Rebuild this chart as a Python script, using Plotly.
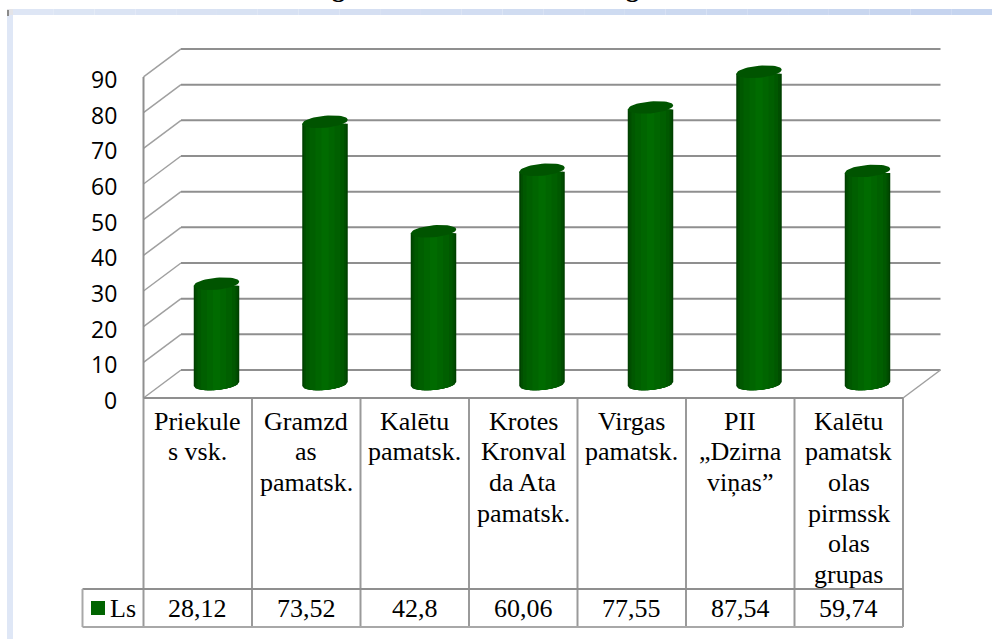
import math
import plotly.graph_objects as go

categories = ["Priekule<br>s vsk.", "Gramzd<br>as<br>pamatsk.", "Kalētu<br>pamatsk.",
              "Krotes<br>Kronval<br>da Ata<br>pamatsk.", "Virgas<br>pamatsk.",
              "PII<br>„Dzirna<br>viņas”", "Kalētu<br>pamatsk<br>olas<br>pirmssk<br>olas<br>grupas"]
values = [28.12, 73.52, 42.8, 60.06, 77.55, 87.54, 59.74]
y_ticks = [0, 10, 20, 30, 40, 50, 60, 70, 80, 90]
series_name = "Ls"

W, H = 992, 639
X0, Y0 = 143.5, 398.0        # front-left origin of the 3D floor
CW, YU = 108.5, 3.567        # px per category, px per value unit
DX, DZ = 37.5, 28.0          # depth offset of the back wall
ML, MR, MT, MB = 133, 46, 45, 234
x_lo = -0.5 + (ML - X0) / CW
x_hi = -0.5 + (W - MR - X0) / CW
y_lo = (Y0 - (H - MB)) / YU
y_hi = (Y0 - MT) / YU
dx, dz = DX / CW, DZ / YU
lift = dz / 2
shift = dx / 2
rx, ry, tilt = 22.75 / CW, 6.0 / YU, 2.0 / YU

GRID = "#8f8f8f"
TABLE = "#9a9a9a"
SERIF = "Liberation Serif"
TXT = 26
# paper coordinates are relative to the plot domain
pxp = lambda v: (v - ML) / (W - ML - MR)
pyp = lambda v: ((H - MB) - v) / (H - MT - MB)

fig = go.Figure()
shapes = []

def gline(x0, y0, x1, y1, color=GRID, width=2):
    shapes.append(dict(type="line", xref="x", yref="y", x0=x0, y0=y0, x1=x1, y1=y1,
                       line=dict(color=color, width=width), layer="below"))

def pline(x0, y0, x1, y1, color=TABLE, width=2):
    shapes.append(dict(type="line", xref="paper", yref="paper", x0=pxp(x0), y0=pyp(y0),
                       x1=pxp(x1), y1=pyp(y1), line=dict(color=color, width=width), layer="below"))

# back wall, side wall and floor
for t in y_ticks:
    gline(-0.5, t, -0.5 + dx, t + dz, "#a0a0a0", 1.5)
    gline(-0.5 + dx, t + dz, 6.5 + dx, t + dz)
gline(-0.5, 0, -0.5, y_ticks[-1])
gline(6.5, 0, 6.5 + dx, dz, "#a0a0a0", 1.5)
gline(-0.5, 0, 6.5, 0)

# cylinder bodies: nested bars from dark edge to bright centre
layers = [(1.0, "#004000"), (0.93, "#004e00"), (0.84, "#005800"),
          (0.68, "#005f00"), (0.42, "#006500"), (0.16, "#006b00")]
xs = list(range(len(values)))
for f, col in layers:
    w = 2 * rx * f
    fig.add_trace(go.Bar(x=xs, y=[v - 2 * tilt for v in values], base=lift + tilt,
                         width=w, offset=shift - w / 2,
                         marker=dict(color=col, line=dict(width=0)),
                         showlegend=False, hoverinfo="skip"))

# rounded bottoms
for f, col in layers:
    ex, ey = [], []
    for i in xs:
        cx = i + shift
        n = 24
        for k in range(n + 1):
            u = -f + 2 * f * k / n
            ex.append(cx + rx * u)
            ey.append(lift - ry * math.sqrt(max(0, 1 - u * u)) + tilt * u)
        ex += [cx + rx * f, cx - rx * f, cx - rx * f, None]
        ey += [lift + tilt, lift + tilt, lift - tilt * f, None]
    fig.add_trace(go.Scatter(x=ex, y=ey, mode="lines", fill="toself", fillcolor=col,
                             line=dict(width=0), showlegend=False, hoverinfo="skip"))

# tilted top caps
cx_all, cy_all = [], []
for i, v in zip(xs, values):
    for k in range(49):
        a = 2 * math.pi * k / 48
        cx_all.append(i + shift + rx * math.cos(a))
        cy_all.append(v + lift + ry * math.sin(a) + tilt * math.cos(a))
    cx_all.append(None)
    cy_all.append(None)
fig.add_trace(go.Scatter(x=cx_all, y=cy_all, mode="lines", fill="toself", fillcolor="#005400",
                         line=dict(width=0), showlegend=False, hoverinfo="skip"))

# data table
T0, T1, T2 = 398, 589, 627
L0 = 82.5
RIGHT = X0 + 7 * CW
for i in range(8):
    pline(X0 + i * CW, T0, X0 + i * CW, T2)
pline(L0, T1, RIGHT, T1, "#8f8f8f")
pline(L0, T2, RIGHT, T2, "#a8a8a8")
pline(L0, T1, L0, T2, "#a8a8a8")
shapes.append(dict(type="rect", xref="paper", yref="paper", x0=pxp(91), x1=pxp(105),
                   y0=pyp(615), y1=pyp(601), fillcolor="#006400", line=dict(width=0)))

# page frame
steps = 24
for k in range(steps):
    a = k / (steps - 1)
    c = (int(222 - 25 * a), int(230 - 18 * a), int(245 - 6 * a))
    x0 = 13 + (W - 13) * k / steps
    x1 = 13 + (W - 13) * (k + 1) / steps
    shapes.append(dict(type="rect", xref="paper", yref="paper", x0=pxp(x0), x1=pxp(x1),
                       y0=pyp(15), y1=pyp(9), fillcolor="rgb(%d,%d,%d)" % c, line=dict(width=0)))
shapes.append(dict(type="rect", xref="paper", yref="paper", x0=pxp(7), x1=pxp(13),
                   y0=pyp(H), y1=pyp(15), fillcolor="#dfe7f6", line=dict(width=0)))
shapes.append(dict(type="rect", xref="paper", yref="paper", x0=pxp(7), x1=pxp(13),
                   y0=pyp(15), y1=pyp(9), fillcolor="#e4e4e8", line=dict(width=0)))
shapes.append(dict(type="rect", xref="paper", yref="paper", x0=pxp(7), x1=pxp(9),
                   y0=pyp(16), y1=pyp(10), fillcolor="#8a8a8a", line=dict(width=0)))

annotations = []
font = dict(family=SERIF, size=TXT, color="#000000")
for i, cat in zip(xs, categories):
    for k, line in enumerate(cat.split("<br>")):
        annotations.append(dict(x=i, y=pyp(421 + 30.7 * k), xref="x", yref="paper", showarrow=False,
                                text=line, yanchor="middle", font=font))
for i, v in zip(xs, values):
    annotations.append(dict(x=i, y=pyp((T1 + T2) / 2), xref="x", yref="paper", showarrow=False,
                            text=f"{v:g}".replace(".", ","), yanchor="middle", font=font))
annotations.append(dict(x=pxp(108), y=pyp((T1 + T2) / 2), xref="paper", yref="paper", showarrow=False,
                        text=series_name, xanchor="left", yanchor="middle", font=font))
# value axis labels, nudged to sit slightly below their gridlines
for t in y_ticks:
    annotations.append(dict(x=pxp(118.5), y=t, xref="paper", yref="y", showarrow=False, text=str(t),
                            xanchor="right", yanchor="middle", yshift=-2,
                            font=dict(family="Open Sans", size=23, color="#000000")))
# descenders of the cropped heading line at the top edge
for gx in (338, 632):
    annotations.append(dict(x=pxp(gx), y=pyp(2), xref="paper", yref="paper", showarrow=False,
                            text="<b>g</b>", xanchor="center", yanchor="bottom", yshift=-3,
                            font=dict(family=SERIF, size=26, color="#000000")))

fig.update_layout(
    width=W, height=H, autosize=False, barmode="overlay",
    margin=dict(l=ML, r=MR, t=MT, b=MB, pad=0),
    paper_bgcolor="#ffffff", plot_bgcolor="rgba(0,0,0,0)",
    showlegend=False, shapes=shapes, annotations=annotations,
    xaxis=dict(range=[x_lo, x_hi], tickmode="array", tickvals=xs, showticklabels=False,
               showgrid=False, zeroline=False, showline=False, ticks=""),
    yaxis=dict(range=[y_lo, y_hi], tickmode="array", tickvals=y_ticks, showticklabels=False,
               showgrid=False, zeroline=False, showline=False, ticks=""),
)
fig.write_html("out.html", config=dict(displayModeBar=False),
               post_script="document.body.style.margin='0';document.body.style.overflow='hidden';")
